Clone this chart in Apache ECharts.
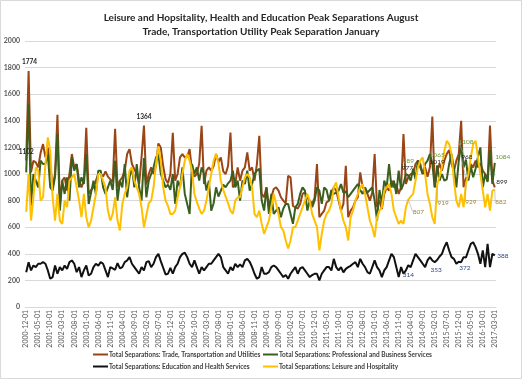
<!DOCTYPE html>
<html>
<head>
<meta charset="utf-8">
<script src="https://cdn.jsdelivr.net/npm/echarts@6/dist/echarts.min.js"></script>
<style>
html,body{margin:0;padding:0;background:#fff;}
#c{width:522px;height:379px;}
</style>
</head>
<body>
<div id="c"></div>
<script>
// ---- data ----
const startYear = 2000, startMonth = 12, nMonths = 196;
const categories = [];
for (let i = 0; i < nMonths; i++) {
  const m = (startMonth - 1 + i) % 12 + 1;
  const y = startYear + Math.floor((startMonth - 1 + i) / 12);
  categories.push(y + '-' + (m < 10 ? '0' + m : m) + '-01');
}
const seriesNames = [
  'Total Separations: Trade, Transportation and Utilities',
  'Total Separations: Professional and Business Services',
  'Total Separations: Education and Health Services',
  'Total Separations: Leisure and Hospitality'
];
const yTicks = [0, 200, 400, 600, 800, 1000, 1200, 1400, 1600, 1800, 2000];

const trade = [
1102,
1774,1012,1100,1087,1050,1160,1225,1125,1200,1075,900,1000,
1445,775,950,975,875,1000,1150,1050,1075,950,900,950,
1347,850,880,900,950,1000,1000,980,1020,980,960,940,
1340,900,950,975,1025,1150,1187,1075,1037,1000,925,1125,
1364,920,1000,1050,1000,1060,1230,1200,1060,960,930,1000,
1310,950,1000,1125,1150,1125,1130,1187,1025,980,1000,1080,
1362,925,1025,1050,1025,1060,1150,1090,1125,1020,1000,1060,
1312,900,925,1050,950,1025,1050,1162,1025,1050,950,1075,
1287,850,825,900,750,825,887,900,875,825,800,780,
987,975,760,750,740,775,850,862,820,800,775,820,
1075,675,700,725,787,800,850,900,875,800,725,775,
1062,675,725,750,800,825,1012,900,880,850,800,860,
1150,750,800,737,850,900,875,950,900,925,850,900,
1300,925,977,1000,1000,1075,1100,1075,1000,1050,980,1050,
1432,900,1019,1075,1025,1100,1150,1180,1075,1025,1100,1150,
1400,900,968,975,1075,1050,1100,1050,1080,1025,1000,950,
1365,950,899
];
const professional = [
1012,
1525,762,1000,950,900,1100,1075,1075,1150,900,875,980,
1300,725,950,850,975,800,1125,1025,1075,900,975,925,
1150,775,860,950,850,1025,1025,900,850,900,950,880,
1100,800,950,900,1075,825,975,1050,900,1075,900,800,
1120,825,950,1000,1050,1125,1150,1000,950,900,920,880,
1000,775,950,900,1050,850,775,700,1075,1000,1050,950,
1050,1000,875,950,725,780,900,830,875,920,900,930,
950,1025,900,950,800,950,925,1025,875,925,1000,1025,
1040,800,725,900,700,850,700,725,750,675,740,775,
775,700,625,750,775,850,900,875,725,800,750,800,
900,875,775,900,880,800,880,850,860,875,925,860,
870,825,850,875,900,925,880,850,900,860,880,900,
800,650,880,780,950,900,1075,900,950,850,1025,880,
925,1000,989,950,1040,960,1100,1050,1000,1075,1100,1150,
1080,900,1065,950,1000,950,960,1075,1150,1040,900,1100,
1220,1050,1108,950,1060,975,1040,1130,1200,900,1000,940,
1180,925,1084
];
const education = [
262,
337,275,312,300,325,325,337,325,275,212,225,312,
250,300,275,312,287,337,350,325,262,300,225,275,
312,237,250,300,325,310,337,325,275,225,300,290,
280,330,290,300,337,350,375,325,300,275,250,300,
275,337,345,300,325,375,400,345,295,245,250,295,
250,300,325,375,400,408,375,325,300,350,300,250,
300,275,300,325,325,350,375,400,375,300,275,250,
300,275,325,300,320,300,350,362,340,300,250,212,
225,300,250,250,262,300,312,300,275,250,225,240,
212,250,275,300,250,290,300,275,250,225,240,250,
250,200,250,275,300,300,275,362,300,275,300,260,
287,300,310,325,337,300,362,325,300,262,250,300,
350,300,275,225,275,300,350,400,375,300,225,300,
250,275,314,300,350,400,375,350,325,300,350,375,
350,337,353,380,400,450,487,425,375,362,325,340,
337,375,372,425,475,487,450,400,325,425,300,475,
300,400,388
];
const leisure = [
715,
1000,650,825,1050,1025,800,825,1075,1275,1175,825,650,
850,650,625,800,750,950,975,1000,900,800,675,850,
675,600,650,750,850,1000,1000,950,900,725,650,700,
825,650,575,775,850,900,1025,1050,950,900,850,750,
600,690,780,800,900,1075,1210,1100,900,800,760,700,
700,725,825,900,1000,1100,1150,1100,1025,850,790,740,
700,725,800,900,1000,1100,1150,1080,950,880,830,780,
725,700,800,825,825,900,975,1000,975,900,700,675,
725,625,550,600,650,750,850,775,700,600,575,500,
440,500,600,600,650,700,750,800,850,800,700,650,
600,425,550,650,700,725,775,900,937,825,725,650,
600,500,675,725,800,850,900,925,850,750,650,600,
525,675,725,750,875,900,925,850,725,675,625,650,
625,750,807,830,850,950,1050,1100,1125,1000,850,775,
675,625,919,980,1050,1175,1250,1225,1150,950,800,750,
850,750,929,1000,1125,1225,1250,1125,1000,875,750,850,
725,875,882
];
// indices of labelled points
const tradeLabelIdx = [0, 1, 49, 159, 171, 183, 195];
const profLabelIdx = [159, 171, 183, 195];
const eduLabelIdx = [159, 171, 183, 195];
const leisLabelIdx = [159, 171, 183, 195];

// ---- styling ----
const F = 'Lato, "Noto Sans", sans-serif';
const colors = ['#9a4515', '#3a5f1e', '#111111', '#ffc000'];
const labelOffsets = {
  trade: {0:[0,-9],1:[1,-9],49:[0,-9],159:[-1,-9],171:[0,-10],183:[1,-21],195:[7,-6]},
  prof: {159:[0,-15],171:[0,-10],183:[0,-18],195:[8,-6]},
  edu: {159:[0,10],171:[-1,10],183:[-1,10],195:[8,1]},
  leis: {159:[10,12],171:[6,18],183:[5,18],195:[6,12]}
};
// labels drawn with a thin leader line
const leaderIdx = {trade:[183], prof:[183], edu:[], leis:[159,171,183,195]};
const labelColors = {trade:'#262626', prof:'#6a9a3a', edu:'#2e4a8a', leis:'#9b8336'};

function build(values, idxList, key, boldIdx) {
  return values.map((v, i) => {
    if (idxList.indexOf(i) < 0) return v;
    const leader = leaderIdx[key].indexOf(i) >= 0;
    return {
      value: v,
      label: {
        show: true, position: 'inside',
        color: labelColors[key], fontSize: 6.5, fontFamily: F,
        fontWeight: (boldIdx && boldIdx.indexOf(i) >= 0) ? 'bold' : 'normal'
      },
      labelLine: {show: leader, lineStyle: {color: '#a6a6a6', width: 0.6}}
    };
  });
}
function layoutFn(key) {
  return function (p) {
    const off = labelOffsets[key][p.dataIndex];
    if (off) return {dx: off[0], dy: off[1]};
    return {};
  };
}
const keys = ['trade', 'prof', 'edu', 'leis'];
const rawArr = [trade, professional, education, leisure];
const labelledArr = [
  build(trade, tradeLabelIdx, 'trade', [0, 1, 49]),
  build(professional, profLabelIdx, 'prof'),
  build(education, eduLabelIdx, 'edu'),
  build(leisure, leisLabelIdx, 'leis')
];

const chart = echarts.init(document.getElementById('c'), null, {renderer: 'canvas'});
const legendBase = {
  icon: 'rect', itemWidth: 15, itemHeight: 2, padding: 0,
  textStyle: {fontFamily: F, fontSize: 6.5, fontWeight: 'bold', color: '#404040', padding: [0,0,0,-4]}
};
const legendPos = [[93, 351], [263, 351], [93, 363], [263, 363]];

// visible lines
const lineSeries = seriesNames.map((n, i) => ({
  name: n, type: 'line', data: rawArr[i],
  showSymbol: false, symbol: 'none',
  lineStyle: {width: 2, color: colors[i]}, itemStyle: {color: colors[i]},
  emphasis: {disabled: true}, z: 2
}));
// transparent overlays carrying the data labels, drawn above all lines
const labelSeries = seriesNames.map((n, i) => ({
  name: n + ' labels', type: 'line', data: labelledArr[i],
  showSymbol: true, showAllSymbol: true, symbol: 'circle', symbolSize: 0,
  lineStyle: {opacity: 0, width: 0}, itemStyle: {color: colors[i]},
  emphasis: {disabled: true}, silent: true, z: 5,
  label: {show: false}, labelLayout: layoutFn(keys[i])
}));

chart.setOption({
  animation: false,
  backgroundColor: '#ffffff',
  color: colors,
  title: {
    text: 'Leisure and Hopsitality, Health and Education Peak Separations August\nTrade, Transportation Utility Peak Separation January',
    left: 'center', top: 6,
    textStyle: {fontFamily: F, fontSize: 10, fontWeight: 'bold', color: '#262626', lineHeight: 14}
  },
  legend: seriesNames.map((n, i) => Object.assign({}, legendBase, {
    data: [n], left: legendPos[i][0], top: legendPos[i][1]
  })),
  grid: {left: 25, right: 26, top: 41, bottom: 72},
  xAxis: {
    type: 'category', data: categories, boundaryGap: true,
    axisLine: {lineStyle: {color: '#d9d9d9'}},
    axisTick: {show: false},
    axisLabel: {interval: 4, rotate: 90, fontSize: 7, fontFamily: F, color: '#595959', margin: 3}
  },
  yAxis: {
    type: 'value', min: yTicks[0], max: yTicks[yTicks.length - 1], interval: 200,
    axisLine: {show: false}, axisTick: {show: false},
    axisLabel: {fontSize: 7, fontFamily: F, color: '#595959', fontWeight: 'bold', margin: 5,
      formatter: v => String(v)},
    splitLine: {lineStyle: {color: '#d9d9d9', width: 1}}
  },
  graphic: [{type: 'rect', shape: {x: 0.5, y: 0.5, width: 521, height: 378},
    style: {fill: null, stroke: '#d9d9d9', lineWidth: 1}, silent: true}],
  series: lineSeries.concat(labelSeries)
});
</script>
</body>
</html>
